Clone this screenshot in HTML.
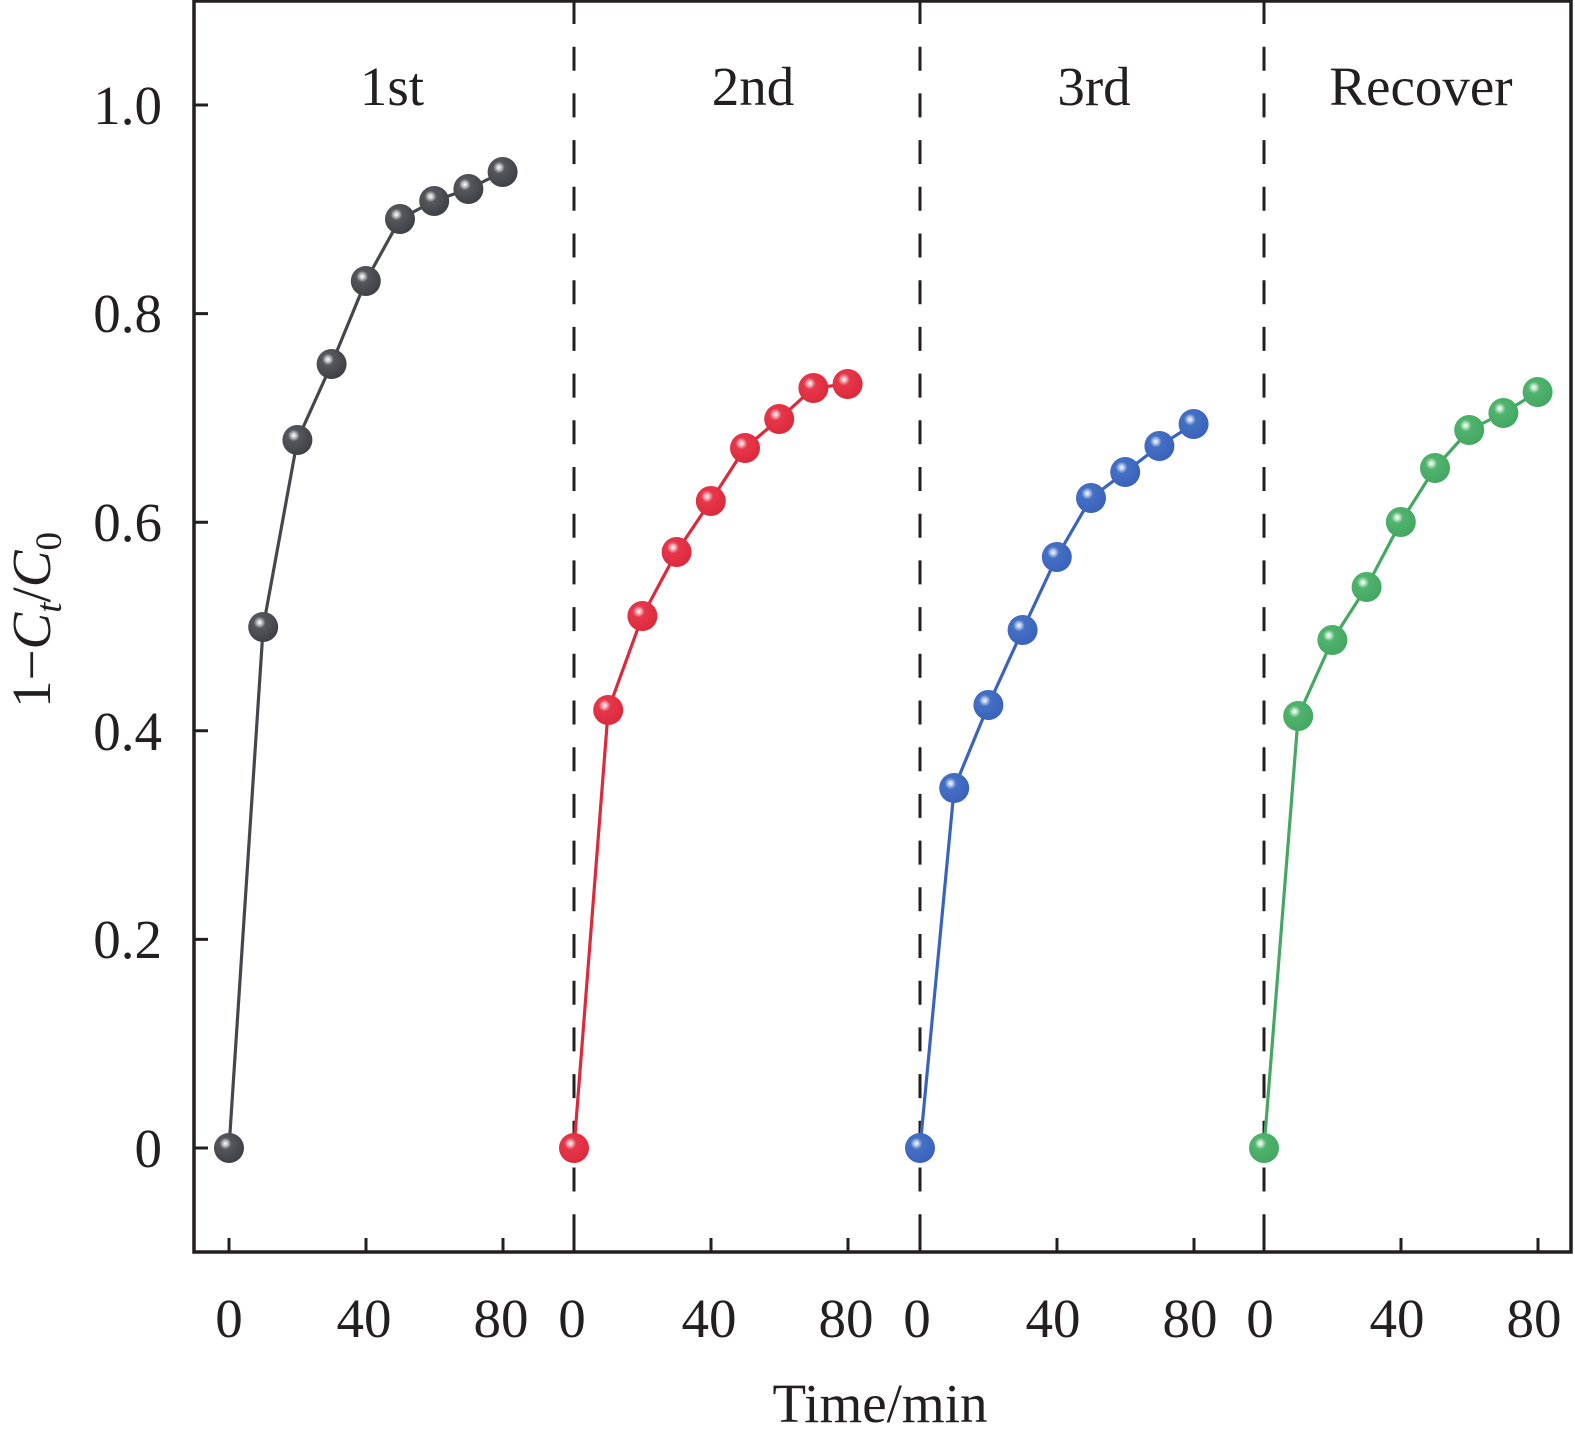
<!DOCTYPE html>
<html><head><meta charset="utf-8"><style>
html,body{margin:0;padding:0;background:#fff;}
svg{display:block;font-family:"Liberation Serif",serif;}
</style></head><body>
<svg width="1575" height="1444" viewBox="0 0 1575 1444" xmlns="http://www.w3.org/2000/svg">
<defs>
<radialGradient id="gk" cx="0.38" cy="0.35" r="0.65"><stop offset="0" stop-color="#fff"/><stop offset="0.12" stop-color="#c8c8cc"/><stop offset="0.3" stop-color="#55575c"/><stop offset="1" stop-color="#3f4146"/></radialGradient>
<radialGradient id="gr" cx="0.38" cy="0.35" r="0.65"><stop offset="0" stop-color="#fff"/><stop offset="0.12" stop-color="#f6b3ba"/><stop offset="0.3" stop-color="#e6374a"/><stop offset="1" stop-color="#dc2a3c"/></radialGradient>
<radialGradient id="gb" cx="0.38" cy="0.35" r="0.65"><stop offset="0" stop-color="#fff"/><stop offset="0.12" stop-color="#b7c9ee"/><stop offset="0.3" stop-color="#4470c4"/><stop offset="1" stop-color="#3a63bb"/></radialGradient>
<radialGradient id="gg" cx="0.38" cy="0.35" r="0.65"><stop offset="0" stop-color="#fff"/><stop offset="0.12" stop-color="#bfe6c9"/><stop offset="0.3" stop-color="#50b36d"/><stop offset="1" stop-color="#45a862"/></radialGradient>
</defs>
<g stroke="#231f20" stroke-width="3" fill="none">
<path d="M194 1 V1252 H1571 V1 Z" stroke-width="3.5"/>
<path d="M574 0 V1252 M920 0 V1252 M1264 0 V1252" stroke-dasharray="24 22.7"/>
<path d="M194 105 H208 M194 313.6 H208 M194 522.2 H208 M194 730.8 H208 M194 939.4 H208 M194 1148 H208"/>
<path d="M229 1252V1238M366 1252V1238M503 1252V1238 M574 1252V1238M711 1252V1238M848 1252V1238 M920 1252V1238M1057 1252V1238M1194 1252V1238 M1264 1252V1238M1401 1252V1238M1538 1252V1238"/>
</g>
<g font-size="55" fill="#231f20" text-anchor="end">
<text x="162" y="124">1.0</text><text x="162" y="332">0.8</text><text x="162" y="541">0.6</text><text x="162" y="750">0.4</text><text x="162" y="958">0.2</text><text x="162" y="1167">0</text>
</g>
<g font-size="55" fill="#231f20" text-anchor="middle">
<text x="229" y="1337">0</text><text x="364" y="1337">40</text><text x="501" y="1337">80</text>
<text x="572" y="1337">0</text><text x="709" y="1337">40</text><text x="846" y="1337">80</text>
<text x="917" y="1337">0</text><text x="1053" y="1337">40</text><text x="1190" y="1337">80</text>
<text x="1260" y="1337">0</text><text x="1397" y="1337">40</text><text x="1534" y="1337">80</text>
<text x="880" y="1422">Time/min</text>
<text x="392" y="105">1st</text><text x="753" y="105">2nd</text><text x="1094" y="105">3rd</text><text x="1421" y="105">Recover</text>
</g>
<text transform="translate(50,620) rotate(-90)" font-size="55" fill="#231f20" text-anchor="middle">1−<tspan font-style="italic">C</tspan><tspan font-style="italic" font-size="37" dy="11">t</tspan><tspan dy="-11">/</tspan><tspan font-style="italic">C</tspan><tspan font-size="37" dy="11">0</tspan></text>
<g fill="none" stroke-width="3.2">
<polyline stroke="#45474c" points="229,1148 263.2,627 297.4,440 331.6,364 365.8,281 400,219 434.2,201 468.4,189 502.6,172"/>
<polyline stroke="#dc2a3c" points="574,1148 608.2,710 642.4,616 676.6,552 710.8,501 745,448 779.2,419 813.4,388 847.6,384"/>
<polyline stroke="#3a63bb" points="920,1148 954.2,788 988.4,705 1022.6,630 1056.8,557 1091,498 1125.2,472 1159.4,446 1193.6,424"/>
<polyline stroke="#45a862" points="1264,1148 1298.2,716 1332.4,640 1366.6,587 1400.8,522 1435,468 1469.2,430 1503.4,413 1537.6,392"/>
</g>
<g fill="url(#gk)">
<circle cx="229" cy="1148" r="15"/><circle cx="263.2" cy="627" r="15"/><circle cx="297.4" cy="440" r="15"/><circle cx="331.6" cy="364" r="15"/><circle cx="365.8" cy="281" r="15"/><circle cx="400" cy="219" r="15"/><circle cx="434.2" cy="201" r="15"/><circle cx="468.4" cy="189" r="15"/><circle cx="502.6" cy="172" r="15"/>
</g>
<g fill="url(#gr)">
<circle cx="574" cy="1148" r="15"/><circle cx="608.2" cy="710" r="15"/><circle cx="642.4" cy="616" r="15"/><circle cx="676.6" cy="552" r="15"/><circle cx="710.8" cy="501" r="15"/><circle cx="745" cy="448" r="15"/><circle cx="779.2" cy="419" r="15"/><circle cx="813.4" cy="388" r="15"/><circle cx="847.6" cy="384" r="15"/>
</g>
<g fill="url(#gb)">
<circle cx="920" cy="1148" r="15"/><circle cx="954.2" cy="788" r="15"/><circle cx="988.4" cy="705" r="15"/><circle cx="1022.6" cy="630" r="15"/><circle cx="1056.8" cy="557" r="15"/><circle cx="1091" cy="498" r="15"/><circle cx="1125.2" cy="472" r="15"/><circle cx="1159.4" cy="446" r="15"/><circle cx="1193.6" cy="424" r="15"/>
</g>
<g fill="url(#gg)">
<circle cx="1264" cy="1148" r="15"/><circle cx="1298.2" cy="716" r="15"/><circle cx="1332.4" cy="640" r="15"/><circle cx="1366.6" cy="587" r="15"/><circle cx="1400.8" cy="522" r="15"/><circle cx="1435" cy="468" r="15"/><circle cx="1469.2" cy="430" r="15"/><circle cx="1503.4" cy="413" r="15"/><circle cx="1537.6" cy="392" r="15"/>
</g>
</svg>
</body></html>
